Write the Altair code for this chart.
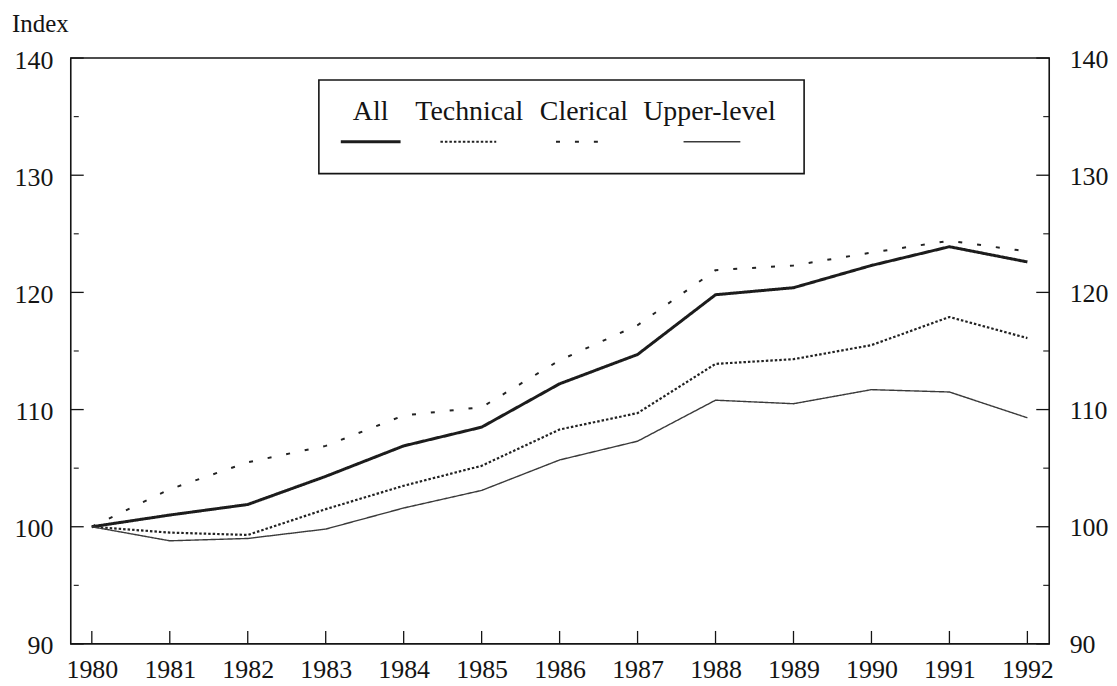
import altair as alt
import pandas as pd

# ---------------- data ----------------
years = list(range(1980, 1993))
series_names = ["All", "Technical", "Clerical", "Upper-level"]
all_vals = [100.0, 101.0, 101.9, 104.3, 106.9, 108.5, 112.2, 114.7, 119.8, 120.4, 122.3, 123.9, 122.6]
technical_vals = [100.0, 99.5, 99.3, 101.5, 103.5, 105.2, 108.3, 109.7, 113.9, 114.3, 115.5, 117.9, 116.1]
clerical_vals = [100.0, 103.2, 105.5, 106.9, 109.5, 110.2, 114.2, 117.2, 121.9, 122.3, 123.4, 124.4, 123.5]
upper_vals = [100.0, 98.8, 99.0, 99.8, 101.6, 103.1, 105.7, 107.3, 110.8, 110.5, 111.7, 111.5, 109.3]
y_major = [90, 100, 110, 120, 130, 140]
y_minor = [95, 105, 115, 125, 135]
y_title = "Index"

# ---------------- layout / style ----------------
W, H = 982, 588
FONT = "Liberation Serif"
INK = "#141414"
FS = 26

styles = {
    "All": dict(color="#1c1c1c", dash=[1, 0], width=3.0),
    "Technical": dict(color="#222222", dash=[2.5, 2], width=2.2),
    "Clerical": dict(color="#222222", dash=[4, 15], width=2.0),
    "Upper-level": dict(color="#3a3a3a", dash=[1, 0], width=1.4),
}
# legend layout (pixels inside the plot area)
LEG_BOX = dict(x=249, x2=736, y=22, y2=116)
LEG_TEXT_X = [301, 400, 515, 641]
LEG_LINE = [(271, 331), (371, 427), (487, 531), (615, 672)]
LEG_TEXT_Y = 62
LEG_LINE_Y = 84

rows = []
for name, vals in zip(series_names, [all_vals, technical_vals, clerical_vals, upper_vals]):
    for yr, v in zip(years, vals):
        rows.append({"year": yr, "value": v, "series": name})
df = pd.DataFrame(rows)

xscale = alt.Scale(domain=[1979.73, 1992.28], nice=False, zero=False)
yscale = alt.Scale(domain=[90, 140], nice=False, zero=False)

x_axis = alt.Axis(
    orient="bottom", values=years, format="d", title=None,
    labelFont=FONT, labelFontSize=FS, labelColor=INK, labelPadding=13,
    ticks=False, tickSize=0, domain=False, grid=False, labelFlush=False,
    labelOverlap=False)

layers = []

# x ticks (inward)
xt = pd.DataFrame({"year": years})
layers.append(
    alt.Chart(xt).mark_rule(color=INK, strokeWidth=1.3).encode(
        x=alt.X("year:Q", scale=xscale, axis=x_axis),
        y=alt.value(H), y2=alt.value(H - 13),
    )
)

# left y ticks with labels
ymaj = pd.DataFrame({"v": y_major})
ymin = pd.DataFrame({"v": y_minor})
layers.append(
    alt.Chart(ymaj).mark_rule(color=INK, strokeWidth=1.3).encode(
        y=alt.Y("v:Q", scale=yscale, axis=alt.Axis(
            orient="left", values=y_major, title=None,
            labelFont=FONT, labelFontSize=FS, labelColor=INK, labelPadding=18,
            labelOffset=2, ticks=False, tickSize=0, domain=False, grid=False,
            labelFlush=False, labelOverlap=False)),
        x=alt.value(0), x2=alt.value(13),
    )
)
# right y ticks with labels
layers.append(
    alt.Chart(ymaj).mark_rule(color=INK, strokeWidth=1.3).encode(
        y=alt.Y("v:Q", scale=yscale, axis=alt.Axis(
            orient="right", values=y_major, title=None,
            labelFont=FONT, labelFontSize=FS, labelColor=INK, labelPadding=20,
            labelOffset=1, ticks=False, tickSize=0, domain=False, grid=False,
            labelFlush=False, labelOverlap=False)),
        x=alt.value(W), x2=alt.value(W - 13),
    )
)
# minor ticks both sides
layers.append(
    alt.Chart(ymin).mark_rule(color=INK, strokeWidth=1.1).encode(
        y=alt.Y("v:Q", scale=yscale, axis=None),
        x=alt.value(3), x2=alt.value(8),
    )
)
layers.append(
    alt.Chart(ymin).mark_rule(color=INK, strokeWidth=1.1).encode(
        y=alt.Y("v:Q", scale=yscale, axis=None),
        x=alt.value(W), x2=alt.value(W - 6),
    )
)

# series lines
for name in series_names:
    st = styles[name]
    layers.append(
        alt.Chart(df[df["series"] == name]).mark_line(
            color=st["color"], strokeDash=st["dash"], strokeWidth=st["width"],
            strokeJoin="round", strokeCap="butt",
        ).encode(
            x=alt.X("year:Q", scale=xscale, axis=x_axis),
            y=alt.Y("value:Q", scale=yscale, axis=None),
        )
    )

# legend box
one = pd.DataFrame({"k": [0]})
layers.append(
    alt.Chart(one).mark_rect(fill="white", stroke=INK, strokeWidth=1.6).encode(
        x=alt.value(LEG_BOX["x"]), x2=alt.value(LEG_BOX["x2"]),
        y=alt.value(LEG_BOX["y"]), y2=alt.value(LEG_BOX["y2"]),
    )
)
for i, name in enumerate(series_names):
    st = styles[name]
    d1 = pd.DataFrame({"series": [name]})
    layers.append(
        alt.Chart(d1).mark_text(font=FONT, fontSize=28, color=INK, align="center",
                                baseline="alphabetic").encode(
            x=alt.value(LEG_TEXT_X[i]), y=alt.value(LEG_TEXT_Y), text="series:N",
        )
    )
    a, b = LEG_LINE[i]
    layers.append(
        alt.Chart(d1).mark_rule(color=st["color"], strokeDash=st["dash"],
                                strokeWidth=st["width"]).encode(
            x=alt.value(a), x2=alt.value(b), y=alt.value(LEG_LINE_Y),
        )
    )

# axis title "Index" placed above the left axis
layers.append(
    alt.Chart(one).mark_text(font=FONT, fontSize=25, color=INK, align="left",
                             baseline="alphabetic").encode(
        x=alt.value(-59), y=alt.value(-26), text=alt.value(y_title),
    )
)

chart = alt.layer(*layers).resolve_axis(y="independent").properties(
    width=W, height=H,
    autosize=alt.AutoSizeParams(type="none"),
    padding={"left": 63, "top": 49, "right": 60, "bottom": 40},
).configure(background="white").configure_view(stroke=INK, strokeWidth=1.6)

chart.save("out.html", embed_options={"renderer": "svg", "actions": False})
